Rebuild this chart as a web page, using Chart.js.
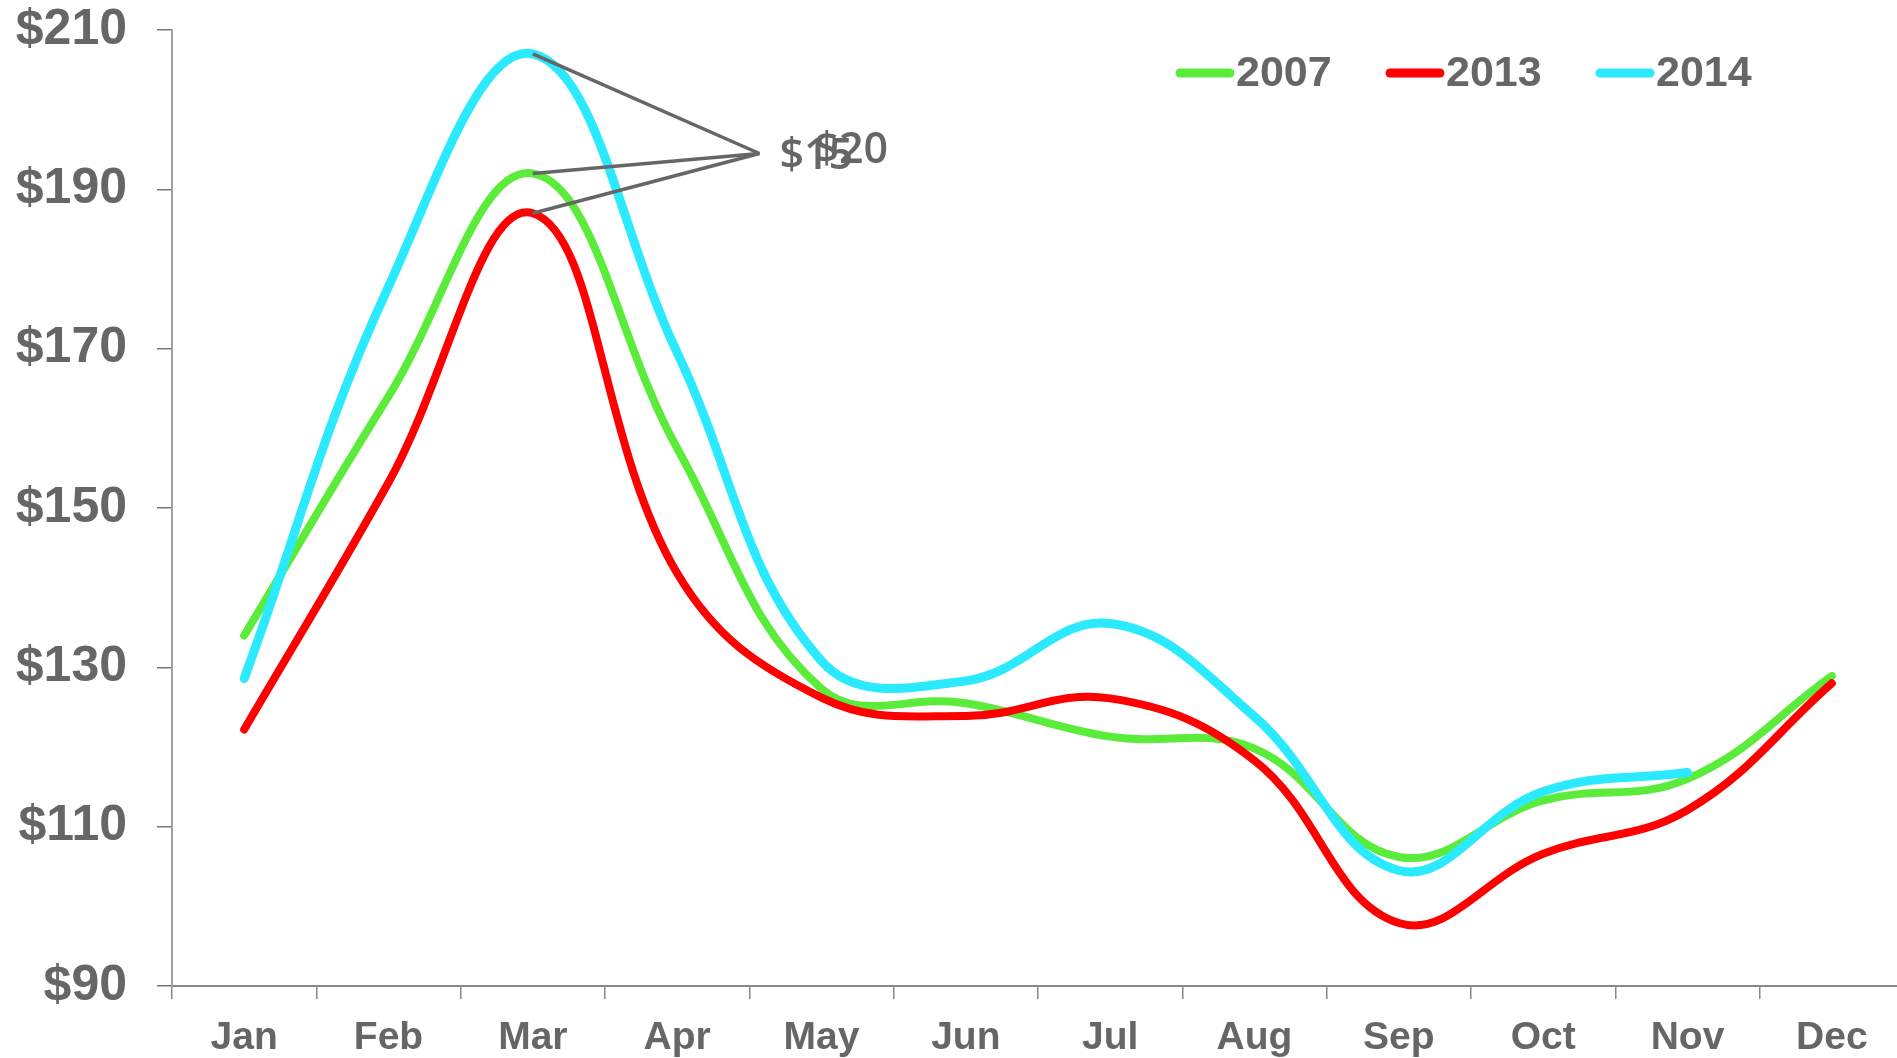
<!DOCTYPE html>
<html>
<head>
<meta charset="utf-8">
<script src="https://cdn.jsdelivr.net/npm/chart.js@4.4.1/dist/chart.umd.min.js"></script>
<style>
  html, body { margin: 0; padding: 0; background: #ffffff; overflow: hidden; }
  #wrap { position: absolute; left: 0; top: 0; width: 1904px; height: 1058px; }
</style>
</head>
<body>
<div id="wrap"><canvas id="c" width="1904" height="1058"></canvas></div>
<script>
const months = ['Jan','Feb','Mar','Apr','May','Jun','Jul','Aug','Sep','Oct','Nov','Dec'];
const seriesNames = ['2007','2013','2014'];
const values2007 = [134.0, 164.0, 192, 157.5, 127.3, 125.5, 121.3, 119.8, 106.2, 113.3, 116.0, 128.9];
const values2013 = [122.2, 153.2, 187, 141.8, 126.2, 123.9, 126.1, 118.3, 97.9, 106.6, 112.1, 128.0];
const values2014 = [128.6, 177.8, 207, 169.5, 130.8, 128.3, 135.5, 123.8, 104.5, 114.4, 116.8, null];
const yTicks = [90, 110, 130, 150, 170, 190, 210];
// callout: differences at March between 2014 and the other years
const calloutMonth = 'Mar';
const calloutAnchor = { index: 3.57, value: 194.5 };

const colors = ['#5BEB3A', '#FF0000', '#2BEAFF'];
const textColor = '#666666';

const legendPlugin = {
  id: 'customLegend',
  afterDraw(chart) {
    const ctx = chart.ctx;
    ctx.save();
    chart.data.datasets.forEach((ds, i) => {
      const x0 = 1176 + i * 210;
      const y = 73;
      ctx.strokeStyle = ds.borderColor;
      ctx.lineWidth = 9;
      ctx.lineCap = 'round';
      ctx.beginPath();
      ctx.moveTo(x0 + 4, y);
      ctx.lineTo(x0 + 54, y);
      ctx.stroke();
      ctx.fillStyle = textColor;
      ctx.font = 'bold 43px "Liberation Sans", Arial, sans-serif';
      ctx.textAlign = 'left';
      ctx.textBaseline = 'middle';
      ctx.fillText(ds.label, x0 + 60, y + 1);
    });
    ctx.restore();
  }
};

const calloutPlugin = {
  id: 'callout',
  afterDatasetsDraw(chart) {
    const ctx = chart.ctx;
    const xs = chart.scales.x, ys = chart.scales.y;
    const mi = months.indexOf(calloutMonth);
    const ax = xs.getPixelForValue(calloutAnchor.index);
    const ay = ys.getPixelForValue(calloutAnchor.value);
    ctx.save();
    ctx.strokeStyle = '#666666';
    ctx.lineWidth = 3.5;
    ctx.lineCap = 'butt';
    chart.data.datasets.forEach((ds, i) => {
      const meta = chart.getDatasetMeta(i);
      const p = meta.data[mi];
      ctx.beginPath();
      ctx.moveTo(p.x, p.y);
      ctx.lineTo(ax, ay);
      ctx.stroke();
    });
    const top = values2014[mi];
    const d1 = Math.round(top - values2007[mi]);
    const d2 = Math.round(top - values2013[mi]);
    ctx.fillStyle = textColor;
    ctx.font = '600 43px "Open Sans", sans-serif';
    ctx.textAlign = 'left';
    ctx.textBaseline = 'alphabetic';
    ctx.fillText('$' + d1, ax + 20, ay + 16);
    ctx.fillText('$' + d2, ax + 55, ay + 10);
    ctx.restore();
  }
};

const chart = new Chart(document.getElementById('c'), {
  type: 'line',
  data: {
    labels: months,
    datasets: [
      { label: seriesNames[0], data: values2007, borderColor: colors[0], backgroundColor: colors[0], borderWidth: 8, order: 2 },
      { label: seriesNames[1], data: values2013, borderColor: colors[1], backgroundColor: colors[1], borderWidth: 8, order: 1 },
      { label: seriesNames[2], data: values2014, borderColor: colors[2], backgroundColor: colors[2], borderWidth: 9, order: 0 }
    ]
  },
  options: {
    responsive: false,
    animation: false,
    devicePixelRatio: 1,
    layout: { padding: { left: 0, right: 0, top: 30, bottom: 0 } },
    elements: {
      line: { tension: 0.4, borderCapStyle: 'round', borderJoinStyle: 'round', fill: false },
      point: { radius: 0, hoverRadius: 0 }
    },
    plugins: {
      legend: { display: false },
      tooltip: { enabled: false }
    },
    scales: {
      x: {
        type: 'category',
        offset: true,
        grid: { display: true, offset: true, drawOnChartArea: false, drawTicks: true, tickLength: 13, color: '#888888', lineWidth: 1.5 },
        border: { display: true, color: '#888888', width: 2 },
        ticks: { color: textColor, font: { family: '"Liberation Sans", Arial, sans-serif', size: 39, weight: 'bold' }, padding: 16, maxRotation: 0, autoSkip: false },
        afterFit(scale) { scale.height = 72; scale.paddingLeft = 0; scale.paddingRight = 0; }
      },
      y: {
        min: 90, max: 210,
        afterBuildTicks(scale) { scale.ticks = yTicks.map(v => ({ value: v })); },
        grid: { display: true, drawOnChartArea: false, drawTicks: true, tickLength: 15, color: '#777777', lineWidth: 1.5 },
        border: { display: true, color: '#A0A0A0', width: 2 },
        ticks: { color: textColor, font: { family: '"Liberation Sans", Arial, sans-serif', size: 50, weight: 'bold' }, padding: 30, callback: v => '$' + v },
        afterFit(scale) { scale.width = 172; scale.paddingTop = 0; scale.paddingBottom = 0; }
      }
    }
  },
  plugins: [legendPlugin, calloutPlugin]
});
</script>
</body>
</html>
